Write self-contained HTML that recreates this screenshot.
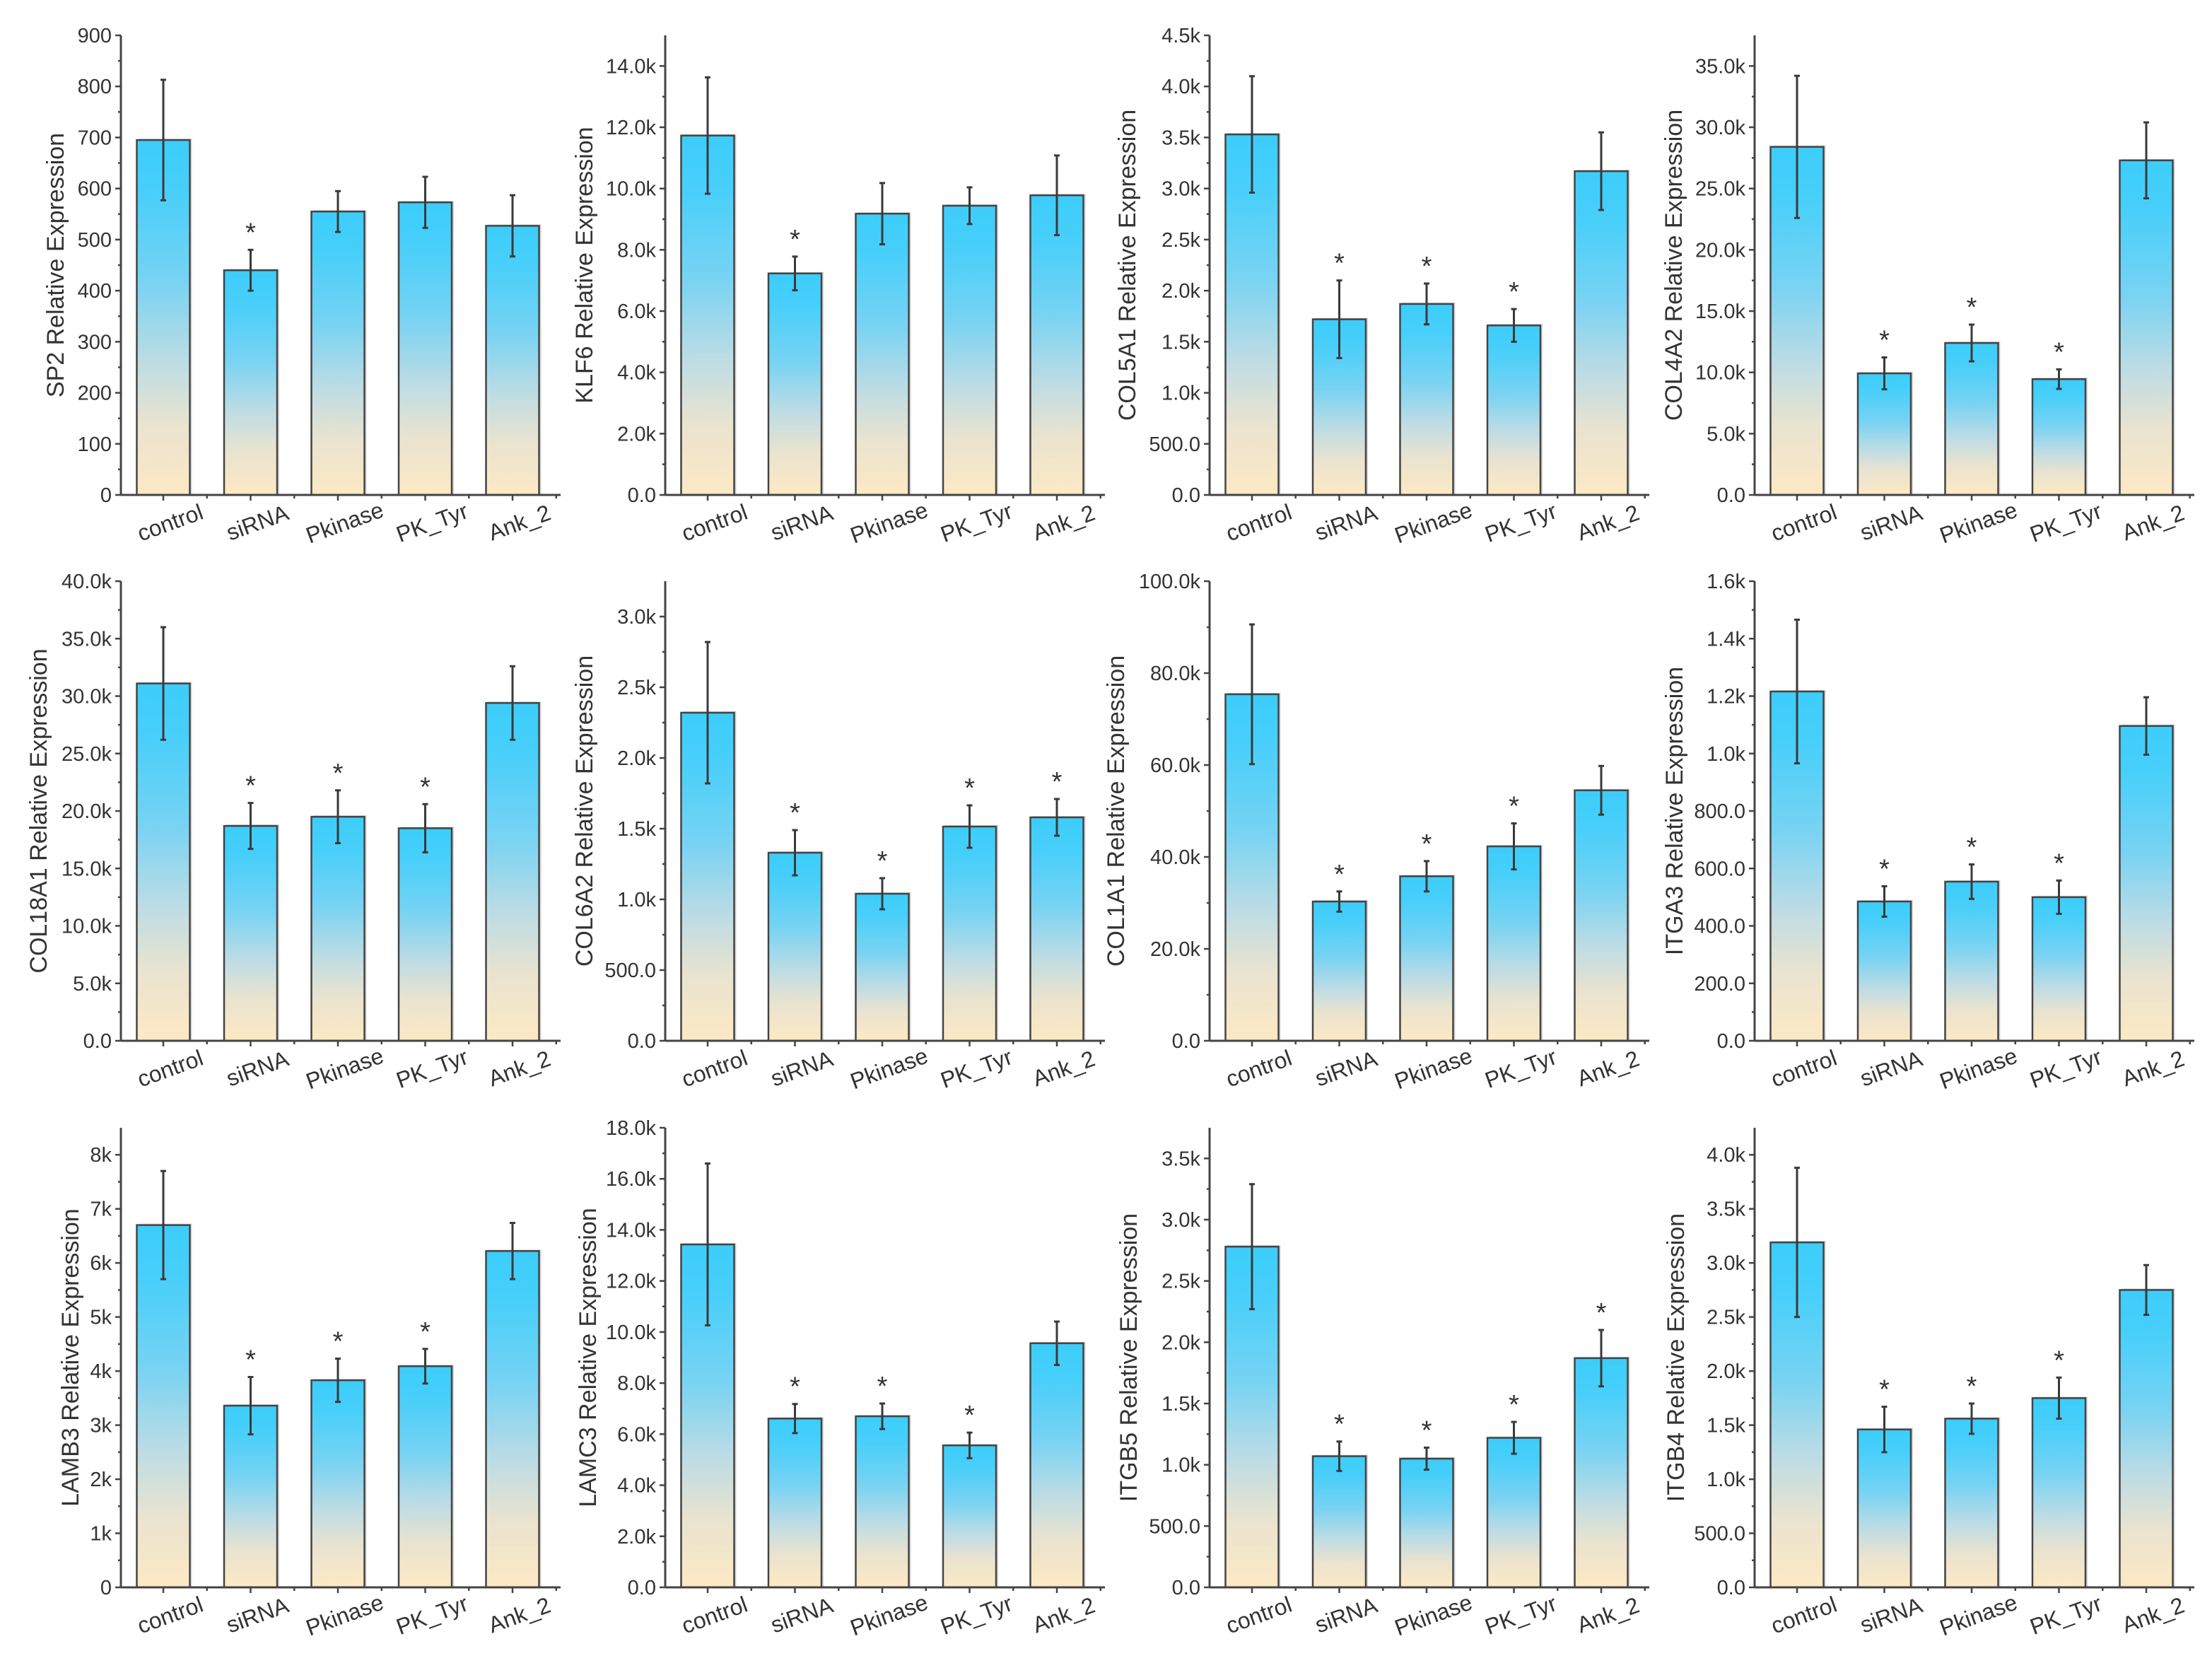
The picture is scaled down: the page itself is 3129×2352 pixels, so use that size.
<!DOCTYPE html>
<html><head><meta charset="utf-8">
<style>
html,body{margin:0;padding:0;background:#fff;}
svg{display:block;}
text{font-family:"Liberation Sans",Arial,sans-serif;fill:#333;}
</style></head>
<body>
<svg id="fig" width="3129" height="2352" viewBox="0 0 3129 2352" xmlns="http://www.w3.org/2000/svg">
<defs>
<linearGradient id="barGrad" x1="0" y1="0" x2="0" y2="1">
<stop offset="0" stop-color="#3ccdfa"/>
<stop offset="0.15" stop-color="#48cffa"/>
<stop offset="0.4" stop-color="#78d3f3"/>
<stop offset="0.62" stop-color="#bcdce5"/>
<stop offset="0.8" stop-color="#e9e3d0"/>
<stop offset="1" stop-color="#fde9c4"/>
</linearGradient>
</defs>
</svg>
<script>
const categories = ["control","siRNA","Pkinase","PK_Tyr","Ank_2"];
const genes = ["SP2","KLF6","COL5A1","COL4A2","COL18A1","COL6A2","COL1A1","ITGA3","LAMB3","LAMC3","ITGB5","ITGB4"];
const means = [
 [695,440,555,573,527],
 [11730,7230,9180,9440,9780],
 [3530,1720,1870,1660,3170],
 [28400,9920,12400,9450,27300],
 [31100,18700,19500,18500,29400],
 [2320,1330,1040,1515,1580],
 [75400,30300,35800,42300,54500],
 [1216,485,554,500,1096],
 [6700,3360,3830,4090,6220],
 [13430,6610,6700,5560,9560],
 [2780,1070,1050,1220,1870],
 [3190,1460,1560,1750,2750]
];
const errors = [
 [118,40,40,50,60],
 [1900,550,1000,600,1300],
 [570,380,200,160,380],
 [5800,1300,1500,800,3100],
 [4900,2000,2300,2100,3200],
 [500,160,110,150,130],
 [15200,2200,3300,5000,5300],
 [250,53,60,58,100],
 [1000,530,400,320,520],
 [3170,570,500,500,850],
 [510,120,90,130,230],
 [690,210,140,190,230]
];
const significant = [
 [0,1,0,0,0],[0,1,0,0,0],[0,1,1,1,0],[0,1,1,1,0],
 [0,1,1,1,0],[0,1,1,1,1],[0,1,1,1,0],[0,1,1,1,0],
 [0,1,1,1,0],[0,1,1,1,0],[0,1,1,1,1],[0,1,1,1,0]
];
const axisMax = [900,15000,4500,37500,40000,3250,100000,1600,8500,18000,3750,4250];
const tickValues = [
 [0,100,200,300,400,500,600,700,800,900],
 [0,2000,4000,6000,8000,10000,12000,14000],
 [0,500,1000,1500,2000,2500,3000,3500,4000,4500],
 [0,5000,10000,15000,20000,25000,30000,35000],
 [0,5000,10000,15000,20000,25000,30000,35000,40000],
 [0,500,1000,1500,2000,2500,3000],
 [0,20000,40000,60000,80000,100000],
 [0,200,400,600,800,1000,1200,1400,1600],
 [0,1000,2000,3000,4000,5000,6000,7000,8000],
 [0,2000,4000,6000,8000,10000,12000,14000,16000,18000],
 [0,500,1000,1500,2000,2500,3000,3500],
 [0,500,1000,1500,2000,2500,3000,3500,4000]
];
const tickLabels = [
 ["0","100","200","300","400","500","600","700","800","900"],
 ["0.0","2.0k","4.0k","6.0k","8.0k","10.0k","12.0k","14.0k"],
 ["0.0","500.0","1.0k","1.5k","2.0k","2.5k","3.0k","3.5k","4.0k","4.5k"],
 ["0.0","5.0k","10.0k","15.0k","20.0k","25.0k","30.0k","35.0k"],
 ["0.0","5.0k","10.0k","15.0k","20.0k","25.0k","30.0k","35.0k","40.0k"],
 ["0.0","500.0","1.0k","1.5k","2.0k","2.5k","3.0k"],
 ["0.0","20.0k","40.0k","60.0k","80.0k","100.0k"],
 ["0.0","200.0","400.0","600.0","800.0","1.0k","1.2k","1.4k","1.6k"],
 ["0","1k","2k","3k","4k","5k","6k","7k","8k"],
 ["0.0","2.0k","4.0k","6.0k","8.0k","10.0k","12.0k","14.0k","16.0k","18.0k"],
 ["0.0","500.0","1.0k","1.5k","2.0k","2.5k","3.0k","3.5k"],
 ["0.0","500.0","1.0k","1.5k","2.0k","2.5k","3.0k","3.5k","4.0k"]
];
const titleOffset = [93,115,117,115,117,115,133,114,72,110,115,112];

const NS="http://www.w3.org/2000/svg";
const svg=document.getElementById('fig');
function mk(tag,attrs,parent){const e=document.createElementNS(NS,tag);for(const k in attrs)e.setAttribute(k,attrs[k]);(parent||svg).appendChild(e);return e;}

const colX=[171,941,1711,2482];
const rowZero=[700,1472,2245];
const plotH=650, axisLen=622, firstOff=60, pitch=123.5, barW=75;

genes.forEach((g,p)=>{
  const ax=colX[p%4], y0=rowZero[Math.floor(p/4)];
  const yScale=v=>y0-v/axisMax[p]*plotH;
  const xScale=i=>ax+firstOff+i*pitch;
  const grp=mk('g',{});
  
  
  means[p].forEach((m,i)=>{
    const cx=xScale(i), yt=yScale(m);
    const shadow=mk('rect',{x:cx-barW/2+3,y:yt-2,width:barW,height:y0-yt+2,fill:'#bbb',opacity:0.6},grp);
    
    
    const r=mk('rect',{x:cx-barW/2,y:yt,width:barW,height:y0-yt,fill:'url(#barGrad)',stroke:'#444','stroke-width':2.5},grp);
    
    
  });
  means[p].forEach((m,i)=>{
    const cx=xScale(i), e=errors[p][i];
    const yh=yScale(m+e), yl=yScale(m-e);
    const eb=mk('g',{stroke:'#3a3a3a','stroke-width':3},grp);
    
    
    mk('line',{x1:cx,y1:yh,x2:cx,y2:yl},eb);
    mk('line',{x1:cx-4,y1:yh,x2:cx+4,y2:yh},eb);
    mk('line',{x1:cx-4,y1:yl,x2:cx+4,y2:yl},eb);
    if(significant[p][i]){
      const s=mk('text',{x:cx,y:yh-12,'font-size':38,'text-anchor':'middle',fill:'#111'},grp);
      s.textContent='*';
      
      
    }
  });
  const yAxis=mk('line',{x1:ax,y1:y0,x2:ax,y2:y0-plotH,stroke:'#444','stroke-width':3},grp);
  
  
  const xAxis=mk('line',{x1:ax,y1:y0,x2:ax+axisLen,y2:y0,stroke:'#444','stroke-width':3},grp);
  
  
  const tv=tickValues[p];
  tv.forEach((v,k)=>{
    const y=yScale(v);
    mk('line',{x1:ax-8,y1:y,x2:ax,y2:y,stroke:'#444','stroke-width':2.5},grp);
    if(k<tv.length-1){
      const ym=yScale((v+tv[k+1])/2);
      mk('line',{x1:ax-4,y1:ym,x2:ax,y2:ym,stroke:'#444','stroke-width':2.5},grp);
    }
    const t=mk('text',{x:ax-13,y:y+10,'font-size':29,'text-anchor':'end'},grp);
    t.textContent=tickLabels[p][k];
    
    
  });
  categories.forEach((c,i)=>{
    const cx=xScale(i);
    mk('line',{x1:cx,y1:y0,x2:cx,y2:y0+8,stroke:'#444','stroke-width':2.5},grp);
    mk('line',{x1:cx+pitch/2,y1:y0,x2:cx+pitch/2,y2:y0+5,stroke:'#444','stroke-width':2.5},grp);
    const lx=cx+10, ly=y0+50;
    const t=mk('text',{x:lx,y:ly,'font-size':32,'text-anchor':'middle',transform:'rotate(-20 '+lx+' '+(ly-10)+')'},grp);
    t.textContent=c;
    
    
  });
  const tx=ax-titleOffset[p], ty=y0-325;
  const tt=mk('text',{x:tx,y:ty,'font-size':34,'text-anchor':'middle',transform:'rotate(-90 '+tx+' '+ty+')',dy:12},grp);
  tt.textContent=g+' Relative Expression';
  
  
});
</script>
</body></html>
